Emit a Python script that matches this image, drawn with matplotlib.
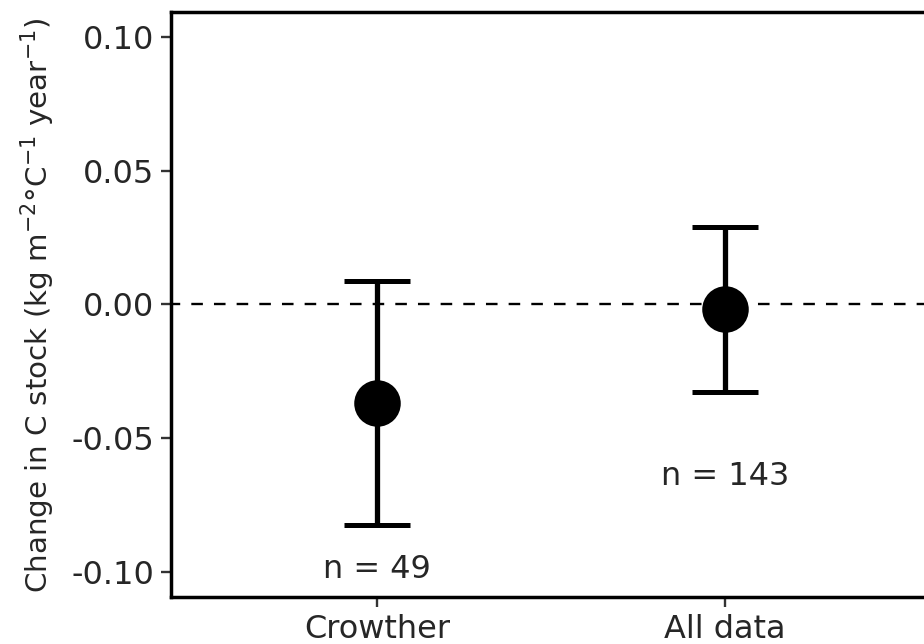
import matplotlib
matplotlib.use("Agg")
import matplotlib.pyplot as plt

# ---- data ----
categories = ["Crowther", "All data"]
means = [-0.0366, -0.0016]
upper = [0.0086, 0.0291]
lower = [-0.0822, -0.0328]
n_labels = ["n = 49", "n = 143"]
n_label_y = [-0.1020, -0.0673]
yticks = [-0.10, -0.05, 0.00, 0.05, 0.10]
ytick_labels = ["-0.10", "-0.05", "0.00", "0.05", "0.10"]
ylabel = r"Change in C stock (kg m$^{-2}$°C$^{-1}$ year$^{-1}$)"

plt.rcParams["font.family"] = ["DejaVu Sans"]
plt.rcParams["mathtext.fontset"] = "dejavusans"

W, H, DPI = 924, 644, 100
fig = plt.figure(figsize=(W / DPI, H / DPI), dpi=DPI)
fig.patch.set_facecolor("white")

left_px, right_px, top_px, bottom_px = 171.3, 934.0, 12.0, 597.0
ax = fig.add_axes([left_px / W, 1 - bottom_px / H,
                   (right_px - left_px) / W, (bottom_px - top_px) / H])

x = list(range(1, len(categories) + 1))
text_col = "#262626"

# reference line
ax.axhline(0, color="black", lw=1.7, zorder=1, linestyle=(1.0, (4.9, 4.7)))

yerr_low = [m - l for m, l in zip(means, lower)]
yerr_up = [u - m for u, m in zip(upper, means)]
ax.errorbar(x, means, yerr=[yerr_low, yerr_up], fmt="none", ecolor="black",
            elinewidth=3.8, capsize=23.5, capthick=3.6, zorder=2)
ax.plot(x, means, "o", color="black", markersize=33.5, markeredgewidth=0, zorder=3)

for xi, lab, ly in zip(x, n_labels, n_label_y):
    ax.text(xi, ly, lab, ha="center", va="baseline", fontsize=23, color=text_col)

ax.set_xlim(0.409, 2.6)
ax.set_ylim(-0.1092, 0.1092)
ax.set_xticks(x)
ax.set_xticklabels(categories)
ax.set_yticks(yticks)
ax.set_yticklabels(ytick_labels)

for side in ["top", "bottom", "left", "right"]:
    ax.spines[side].set_linewidth(2.5)
    ax.spines[side].set_color("black")

ax.tick_params(axis="both", length=7.2, width=1.7, color="#333333",
               labelsize=23, labelcolor=text_col, pad=5)

fig.text(38 / W, 1 - 305 / H, ylabel, rotation=90, ha="center", va="center",
         fontsize=21.2, color=text_col)

fig.savefig("out.png", dpi=DPI, facecolor="white")
